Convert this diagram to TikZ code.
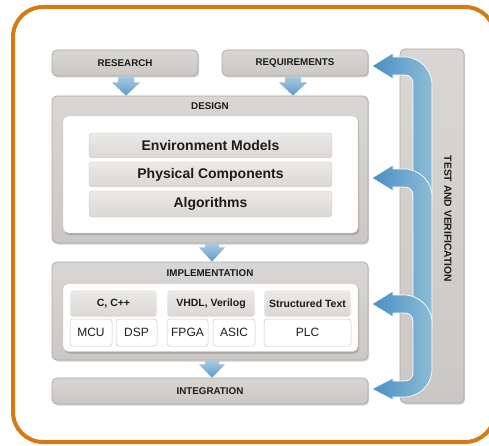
\documentclass[tikz,border=0pt]{standalone}
\usepackage{fontspec}
\setmainfont{Liberation Sans}
\usetikzlibrary{shadows}
\definecolor{frameor}{HTML}{D77A12}
\definecolor{boxtop}{HTML}{D9D7D5}
\definecolor{boxbot}{HTML}{CAC7C4}
\definecolor{boxline}{HTML}{AEAAA7}
\definecolor{bartop}{HTML}{ECEAE8}
\definecolor{barbot}{HTML}{DAD7D4}
\definecolor{barline}{HTML}{CFCCC9}
\definecolor{celline}{HTML}{C9C9C9}
\definecolor{bluedark}{HTML}{4A8FC6}
\definecolor{bluelight}{HTML}{8DBBD5}
\definecolor{bluetop}{HTML}{A9CBE0}
\definecolor{txt}{HTML}{1C1C1C}
\begin{document}
\begin{tikzpicture}[x=1pt,y=-1pt,
  graybox/.style={rounded corners=5pt, top color=boxtop, bottom color=boxbot, draw=boxline, line width=0.8pt,
    drop shadow={shadow xshift=1.2pt, shadow yshift=-1.5pt, opacity=0.35}, inner sep=0pt},
  whitepanel/.style={rounded corners=5pt, fill=white, draw=boxline!70, line width=0.4pt,
    drop shadow={shadow xshift=1.2pt, shadow yshift=-2pt, opacity=0.45}, inner sep=0pt},
  bar/.style={rounded corners=3pt, top color=bartop, bottom color=barbot, draw=barline, line width=0.4pt,
    inner sep=0pt, font=\fontsize{14}{16}\selectfont\bfseries, text=txt},
  header/.style={rounded corners=3pt, top color=bartop, bottom color=barbot, draw=white, line width=0.6pt,
    inner sep=0pt, font=\fontsize{10.5}{12}\selectfont\bfseries, text=txt},
  cell/.style={rounded corners=3pt, fill=white, draw=celline, line width=0.5pt,
    inner sep=0pt, font=\fontsize{12}{14}\selectfont, text=txt},
  caplabel/.style={font=\fontsize{9.8}{11}\selectfont\bfseries, text=txt, inner sep=0pt},
  bluearrow/.style={left color=bluedark, right color=bluelight, draw=white, line width=0.7pt},
  downarrow/.style={top color=bluetop, bottom color=bluedark!90, draw=none}
]
\useasboundingbox (0,0) rectangle (489,446);
\fill[white] (0,0) rectangle (489,446);
% orange frame
\draw[frameor, line width=4pt, rounded corners=30pt] (13,7) rectangle (495,442);

% test and verification column
\node[graybox, minimum width=64pt, minimum height=354pt] (tv) at (432,226) {};
\node[caplabel, font=\fontsize{10.3}{12}\selectfont\bfseries, rotate=-90] (tvlabel) at (448,219) {TEST AND VERIFICATION};

% top boxes
\node[graybox, minimum width=146pt, minimum height=26pt, caplabel] (research) at (125,63) {RESEARCH};
\node[graybox, minimum width=146pt, minimum height=26pt, caplabel] (req) at (295,63) {REQUIREMENTS};

% design
\node[graybox, minimum width=316pt, minimum height=147pt] (design) at (210,169.5) {};
\node[caplabel] (designlabel) at (210,106.5) {DESIGN};
\node[whitepanel, minimum width=295pt, minimum height=117pt] (designpanel) at (210.5,174.5) {};
\node[bar, minimum width=243pt, minimum height=25pt] (env) at (210.5,145.5) {Environment Models};
\node[bar, minimum width=243pt, minimum height=25pt] (phys) at (210.5,174.5) {Physical Components};
\node[bar, minimum width=243pt, minimum height=26pt] (algo) at (210.5,204) {Algorithms};

% implementation
\node[graybox, minimum width=316pt, minimum height=98pt] (impl) at (210,311) {};
\node[caplabel] (impllabel) at (210,273.5) {IMPLEMENTATION};
\node[whitepanel, minimum width=295pt, minimum height=68pt] (implpanel) at (210.5,317.5) {};
\node[header, minimum width=87pt, minimum height=27pt] (cpp) at (113.5,303.5) {C, C++};
\node[cell, minimum width=42pt, minimum height=27pt] (mcu) at (91,332.5) {MCU};
\node[cell, minimum width=41pt, minimum height=27pt] (dsp) at (136.5,332.5) {DSP};
\node[header, minimum width=88pt, minimum height=27pt] (vhdl) at (211,303.5) {VHDL, Verilog};
\node[cell, minimum width=41pt, minimum height=27pt] (fpga) at (187.5,332.5) {FPGA};
\node[cell, minimum width=42pt, minimum height=27pt] (asic) at (234,332.5) {ASIC};
\node[header, minimum width=87pt, minimum height=27pt] (st) at (307.5,303.5) {Structured Text};
\node[cell, minimum width=87pt, minimum height=27pt] (plc) at (307.5,332.5) {PLC};

% integration
\node[graybox, minimum width=316pt, minimum height=26pt, caplabel] (integ) at (210,391) {INTEGRATION};

% down arrows
\coordinate (a1) at ([xshift=1pt]research.south);
\path[downarrow] ([xshift=-8pt]a1) -- ([xshift=8pt]a1) -- ([xshift=8pt,yshift=-6pt]a1) -- ([xshift=14pt,yshift=-6pt]a1)
  -- (design.north -| a1) -- ([xshift=-14pt,yshift=-6pt]a1) -- ([xshift=-8pt,yshift=-6pt]a1) -- cycle;
\coordinate (a2) at ([xshift=-2pt]req.south);
\path[downarrow] ([xshift=-8pt]a2) -- ([xshift=8pt]a2) -- ([xshift=8pt,yshift=-6pt]a2) -- ([xshift=14pt,yshift=-6pt]a2)
  -- (design.north -| a2) -- ([xshift=-14pt,yshift=-6pt]a2) -- ([xshift=-8pt,yshift=-6pt]a2) -- cycle;
\coordinate (a3) at ([xshift=2pt]design.south);
\path[downarrow] ([xshift=-7pt]a3) -- ([xshift=7pt]a3) -- ([xshift=7pt,yshift=-4pt]a3) -- ([xshift=13pt,yshift=-4pt]a3)
  -- (impl.north -| a3) -- ([xshift=-13pt,yshift=-4pt]a3) -- ([xshift=-7pt,yshift=-4pt]a3) -- cycle;
\coordinate (a4) at ([xshift=2pt]impl.south);
\path[downarrow] ([xshift=-7pt]a4) -- ([xshift=7pt]a4) -- ([xshift=7pt,yshift=-4pt]a4) -- ([xshift=13pt,yshift=-4pt]a4)
  -- (integ.north -| a4) -- ([xshift=-13pt,yshift=-4pt]a4) -- ([xshift=-7pt,yshift=-4pt]a4) -- cycle;

% blue feedback arrows
\path[bluearrow] (372,66) -- (393,53) -- (393,57) -- (404,57) .. controls (419.5,57) and (432,69.5) .. (432,85)
  -- (432,200) -- (413,200) -- (413,83) .. controls (413,78.6) and (409.4,75) .. (405,75) -- (393,75) -- (393,79) -- cycle;
\path[bluearrow] (372,178) -- (393,165) -- (393,169) -- (404,169) .. controls (419.5,169) and (432,181.5) .. (432,197)
  -- (432,326) -- (413,326) -- (413,195) .. controls (413,190.6) and (409.4,187) .. (405,187) -- (393,187) -- (393,191) -- cycle;
\path[bluearrow] (372,304) -- (393,291) -- (393,295) -- (404,295) .. controls (419.5,295) and (432,307.5) .. (432,323)
  -- (432,369) .. controls (432,384.5) and (419.5,397) .. (404,397) -- (393,397) -- (393,400) -- (372,389)
  -- (393,378) -- (393,381) -- (405,381) .. controls (409.4,381) and (413,377.4) .. (413,373)
  -- (413,321) .. controls (413,316.6) and (409.4,313) .. (405,313) -- (393,313) -- (393,317) -- cycle;
\end{tikzpicture}
\end{document}
